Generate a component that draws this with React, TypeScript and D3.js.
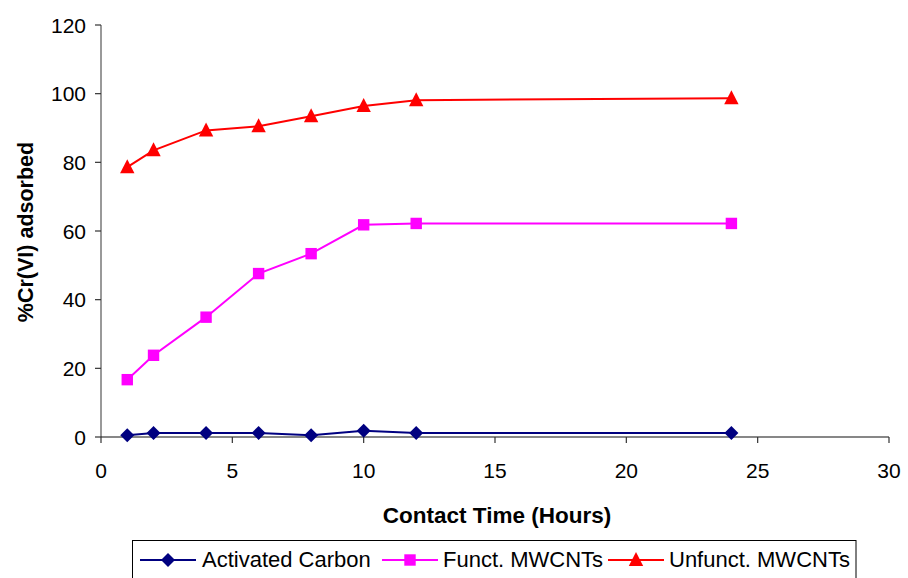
import React from "react";
import * as d3 from "d3";

const hours = [1, 2, 4, 6, 8, 10, 12, 24];
const activatedCarbon = [0.5, 1.2, 1.2, 1.2, 0.5, 1.8, 1.2, 1.2];
const functMWCNTs = [16.7, 23.8, 34.9, 47.6, 53.4, 61.8, 62.2, 62.2];
const unfunctMWCNTs = [78.6, 83.5, 89.3, 90.5, 93.4, 96.4, 98.1, 98.7];
const xTicks = [0, 5, 10, 15, 20, 25, 30];
const yTicks = [0, 20, 40, 60, 80, 100, 120];
const seriesNames = ["Activated Carbon", "Funct. MWCNTs", "Unfunct. MWCNTs"];
const seriesColors = ["#000080", "#FF00FF", "#FF0000"];
const seriesMarkers = ["diamond", "square", "triangle"];

const FONT = "Liberation Sans, Arial, sans-serif";

function Marker({ type, x, y, color }: { type: string; x: number; y: number; color: string }) {
  if (type === "diamond") {
    const s = 7;
    return <path d={`M${x},${y - s}L${x + s},${y}L${x},${y + s}L${x - s},${y}Z`} fill={color} />;
  }
  if (type === "square") {
    const s = 5.7;
    return <rect x={x - s} y={y - s} width={2 * s} height={2 * s} fill={color} />;
  }
  const w = 7.2;
  return <path d={`M${x},${y - 8}L${x + w},${y + 6}L${x - w},${y + 6}Z`} fill={color} />;
}

export default function App() {
  const width = 908;
  const height = 578;
  const x = d3.scaleLinear().domain([0, 30]).range([101, 889]);
  const y = d3.scaleLinear().domain([0, 120]).range([437, 25]);
  const series = [activatedCarbon, functMWCNTs, unfunctMWCNTs];
  const line = d3
    .line<[number, number]>()
    .x((d) => x(d[0]))
    .y((d) => y(d[1]));

  const legendItems = [
    { lx: 140, tx: 202 },
    { lx: 382, tx: 443 },
    { lx: 608, tx: 669 },
  ];

  return (
    <svg
      width={width}
      height={height}
      style={{ position: "absolute", left: 0, top: 0, background: "#fff" }}
      fontFamily={FONT}
    >
      {/* axes */}
      <line x1={x(0)} x2={x(0)} y1={y(120)} y2={y(0)} stroke="#555" strokeWidth={1.2} />
      <line x1={x(0)} x2={x(30)} y1={y(0)} y2={y(0)} stroke="#111" strokeWidth={1.2} />
      {yTicks.map((t) => (
        <g key={"y" + t}>
          <line x1={x(0) - 6} x2={x(0)} y1={y(t)} y2={y(t)} stroke="#333" strokeWidth={1.2} />
          <text x={86} y={y(t)} dy="0.36em" textAnchor="end" fontSize={21} fill="#000">
            {t}
          </text>
        </g>
      ))}
      {xTicks.map((t) => (
        <g key={"x" + t}>
          <line x1={x(t)} x2={x(t)} y1={y(0)} y2={y(0) + 6} stroke="#333" strokeWidth={1.2} />
          <text x={x(t)} y={478} textAnchor="middle" fontSize={21} fill="#000">
            {t}
          </text>
        </g>
      ))}
      <text x={497} y={523} textAnchor="middle" fontSize={22.5} fontWeight="bold">
        Contact Time (Hours)
      </text>
      <text
        transform={`translate(33,232) rotate(-90)`}
        textAnchor="middle"
        fontSize={21.5}
        fontWeight="bold"
      >
        %Cr(VI) adsorbed
      </text>

      {/* series */}
      {series.map((vals, i) => {
        const pts = hours.map((h, j) => [h, vals[j]] as [number, number]);
        return (
          <g key={seriesNames[i]}>
            <path d={line(pts) || ""} fill="none" stroke={seriesColors[i]} strokeWidth={2} />
            {pts.map((p, j) => (
              <Marker key={j} type={seriesMarkers[i]} x={x(p[0])} y={y(p[1])} color={seriesColors[i]} />
            ))}
          </g>
        );
      })}

      {/* legend */}
      <rect x={132.5} y={540.5} width={723.5} height={50} fill="#fff" stroke="#000" strokeWidth={1} />
      {legendItems.map((it, i) => (
        <g key={"lg" + i}>
          <line x1={it.lx} x2={it.lx + 56} y1={560} y2={560} stroke={seriesColors[i]} strokeWidth={2} />
          <Marker type={seriesMarkers[i]} x={it.lx + 28} y={560} color={seriesColors[i]} />
          <text x={it.tx} y={567} fontSize={22} fill="#000">
            {seriesNames[i]}
          </text>
        </g>
      ))}
    </svg>
  );
}
